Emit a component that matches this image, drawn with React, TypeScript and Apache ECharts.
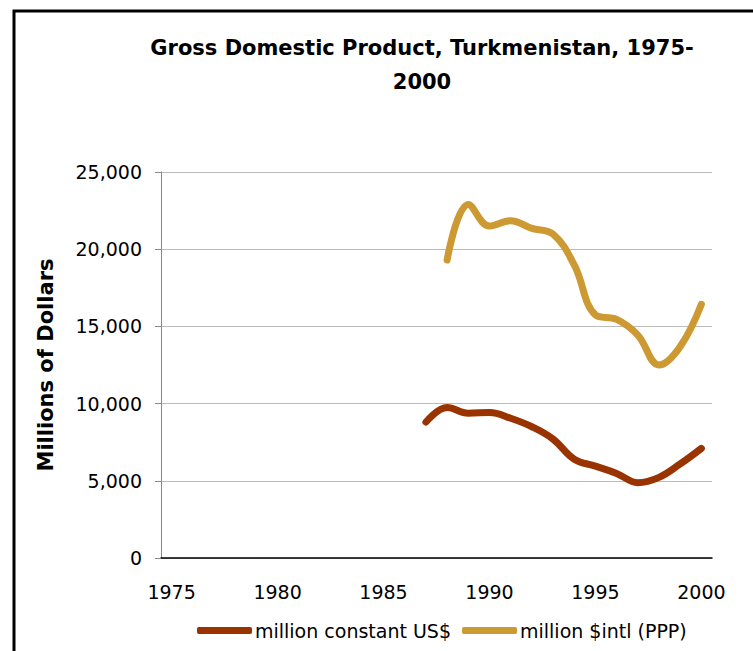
import React, { useEffect, useRef } from "react";
import * as echarts from "echarts";

const years: string[] = [
  "1975","1976","1977","1978","1979","1980","1981","1982","1983","1984","1985","1986","1987",
  "1988","1989","1990","1991","1992","1993","1994","1995","1996","1997","1998","1999","2000",
];
const constantUSD: (number | null)[] = [
  null,null,null,null,null,null,null,null,null,null,null,null,
  8800, 9750, 9380, 9430, 9050, 8500, 7700, 6400, 5950, 5480, 4880, 5220, 6090, 7100,
];
const intlPPP: (number | null)[] = [
  null,null,null,null,null,null,null,null,null,null,null,null,null,
  19300, 22900, 21500, 21850, 21350, 20980, 18980, 15740, 15460, 14440, 12500, 13690, 16430,
];
const seriesNames = ["million constant US$", "million $intl (PPP)"];
const colors = ["#993300", "#CC9933"];
const FONT = "DejaVu Sans";

export default function App() {
  const ref = useRef<HTMLDivElement>(null);
  useEffect(() => {
    if (!ref.current) return;
    const chart = echarts.init(ref.current, undefined, { renderer: "svg" });
    chart.setOption({
      animation: false,
      title: {
        text: "Gross Domestic Product, Turkmenistan, 1975-\n2000",
        left: 417,
        top: 26,
        textAlign: "center",
        textStyle: { fontFamily: FONT, fontWeight: "bold", fontSize: 21, lineHeight: 34, color: "#000" },
      },
      graphic: [
        {
          type: "polyline",
          shape: { points: [[14, 660], [14, 11], [760, 11]] },
          style: { stroke: "#000", lineWidth: 3, fill: "none" },
          silent: true,
        },
      ],
      legend: {
        left: 192,
        top: 616,
        itemWidth: 55,
        itemHeight: 7,
        itemGap: 11,
        icon: "roundRect",
        textStyle: { fontFamily: FONT, fontSize: 19, color: "#000", padding: [0, 0, 0, -2] },
        data: seriesNames,
      },
      grid: { left: 161, right: 41, top: 172, bottom: 93 },
      xAxis: {
        type: "category",
        data: years,
        boundaryGap: true,
        axisLine: { show: true, lineStyle: { color: "#000", width: 1.5 } },
        axisTick: { show: false },
        axisLabel: { interval: 4, margin: 24, fontFamily: FONT, fontSize: 19, color: "#000" },
      },
      yAxis: {
        type: "value",
        min: 0,
        max: 25000,
        interval: 5000,
        name: "Millions of Dollars",
        nameLocation: "middle",
        nameGap: 105,
        nameTextStyle: { fontFamily: FONT, fontWeight: "bold", fontSize: 21, color: "#000" },
        axisLine: { show: true, lineStyle: { color: "#888", width: 1 } },
        axisTick: { show: true, length: 6, lineStyle: { color: "#888" } },
        splitLine: { show: true, lineStyle: { color: "#bbb", width: 1 } },
        axisLabel: {
          margin: 19,
          fontFamily: FONT,
          fontSize: 19,
          color: "#000",
          formatter: (v: number) => v.toLocaleString("en-US"),
        },
      },
      series: [
        {
          name: seriesNames[0],
          type: "line",
          data: constantUSD,
          smooth: 0.4,
          showSymbol: false,
          lineStyle: { color: colors[0], width: 7, cap: "round", join: "round" },
          itemStyle: { color: colors[0] },
        },
        {
          name: seriesNames[1],
          type: "line",
          data: intlPPP,
          smooth: 0.4,
          showSymbol: false,
          lineStyle: { color: colors[1], width: 7, cap: "round", join: "round" },
          itemStyle: { color: colors[1] },
        },
      ],
    });
    return () => chart.dispose();
  }, []);
  return (
    <div
      ref={ref}
      style={{ position: "fixed", left: 0, top: 0, width: 753, height: 651, background: "#fff" }}
    />
  );
}
